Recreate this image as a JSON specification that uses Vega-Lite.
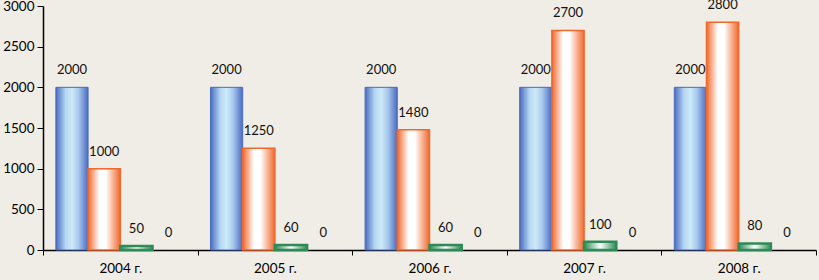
{
  "$schema": "https://vega.github.io/schema/vega-lite/v6.json",
  "width": 773,
  "height": 244,
  "autosize": {"type": "none"},
  "padding": {"left": 43, "top": 6, "right": 3, "bottom": 30},
  "background": "#f0ece6",
  "config": {
    "view": {"stroke": null},
    "axis": {"labelFont": "Lato", "labelFontSize": 13.5, "labelColor": "#000", "domainColor": "#000", "tickColor": "#000", "grid": false, "title": null}
  },
  "data": {"values": [
    {"year": "2004 г.", "s": "A", "v": 2000}, {"year": "2004 г.", "s": "B", "v": 1000}, {"year": "2004 г.", "s": "C", "v": 50}, {"year": "2004 г.", "s": "D", "v": 0},
    {"year": "2005 г.", "s": "A", "v": 2000}, {"year": "2005 г.", "s": "B", "v": 1250}, {"year": "2005 г.", "s": "C", "v": 60}, {"year": "2005 г.", "s": "D", "v": 0},
    {"year": "2006 г.", "s": "A", "v": 2000}, {"year": "2006 г.", "s": "B", "v": 1480}, {"year": "2006 г.", "s": "C", "v": 60}, {"year": "2006 г.", "s": "D", "v": 0},
    {"year": "2007 г.", "s": "A", "v": 2000}, {"year": "2007 г.", "s": "B", "v": 2700}, {"year": "2007 г.", "s": "C", "v": 100}, {"year": "2007 г.", "s": "D", "v": 0},
    {"year": "2008 г.", "s": "A", "v": 2000}, {"year": "2008 г.", "s": "B", "v": 2800}, {"year": "2008 г.", "s": "C", "v": 80}, {"year": "2008 г.", "s": "D", "v": 0}
  ]},
  "encoding": {
    "x": {"field": "year", "type": "nominal", "scale": {"paddingInner": 0, "paddingOuter": 0},
      "axis": {"labelAngle": 0, "tickBand": "extent", "tickSize": 5, "labelPadding": 6, "domainWidth": 1.5}},
    "xOffset": {"field": "s", "type": "nominal", "scale": {"domain": ["A", "B", "C", "D"], "paddingInner": 0, "paddingOuter": 0.4}},
    "y": {"field": "v", "type": "quantitative", "scale": {"domain": [0, 3000]},
      "axis": {"values": [0, 500, 1000, 1500, 2000, 2500, 3000], "format": "d", "tickSize": 6, "labelPadding": 3, "domainWidth": 1.5}}
  },
  "layer": [
    {
      "transform": [{"filter": "datum.s === 'A'"}],
      "mark": {"type": "bar", "stroke": "#4a6bc0", "strokeWidth": 1,
        "color": {"gradient": "linear", "x1": 0, "x2": 1, "y1": 0, "y2": 0,
          "stops": [{"offset": 0, "color": "#4a6bc0"}, {"offset": 0.3, "color": "#b4d6f2"}, {"offset": 0.5, "color": "#cdeaf8"}, {"offset": 0.7, "color": "#a9c9ee"}, {"offset": 1, "color": "#4a6bc0"}]}}
    },
    {
      "transform": [{"filter": "datum.s === 'B'"}],
      "mark": {"type": "bar", "stroke": "#f0682c", "strokeWidth": 1.5,
        "color": {"gradient": "linear", "x1": 0, "x2": 1, "y1": 0, "y2": 0,
          "stops": [{"offset": 0, "color": "#f0682c"}, {"offset": 0.35, "color": "#ffffff"}, {"offset": 0.55, "color": "#ffffff"}, {"offset": 1, "color": "#f0682c"}]}}
    },
    {
      "transform": [{"filter": "datum.s === 'C'"}],
      "mark": {"type": "bar", "stroke": "#2e8b57", "strokeWidth": 2.5,
        "color": {"gradient": "linear", "x1": 0, "x2": 1, "y1": 0, "y2": 0,
          "stops": [{"offset": 0, "color": "#2e8b57"}, {"offset": 0.5, "color": "#ffffff"}, {"offset": 1, "color": "#2e8b57"}]}}
    },
    {
      "mark": {"type": "text", "baseline": "bottom", "dy": -10, "font": "Lato", "fontSize": 13, "color": "#111"},
      "encoding": {"text": {"field": "v", "type": "quantitative"}}
    }
  ]
}
